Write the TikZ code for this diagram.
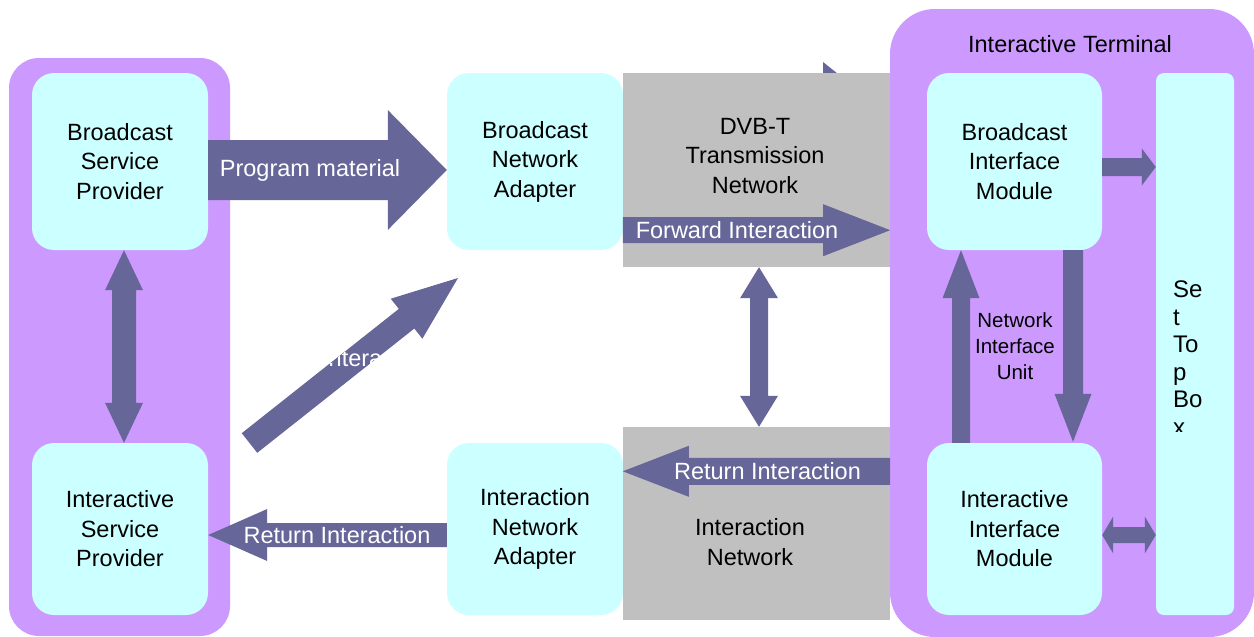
\documentclass[tikz,border=0pt]{standalone}
\usepackage{fontspec}
\setmainfont{Liberation Sans}
\usetikzlibrary{calc}
\definecolor{purp}{HTML}{CC99FF}
\definecolor{cyanb}{HTML}{CCFFFF}
\definecolor{arrc}{HTML}{666699}
\definecolor{grayb}{HTML}{C0C0C0}
\newcommand\mainfs{\fontsize{23.5}{29.5}\selectfont}
% single block arrow: #1 command, #2 from, #3 to, #4 shaft half width, #5 head half width, #6 head length
\newcommand\blockarr[6]{#1 let \p1=(#2), \p2=(#3), \n1={atan2(\y2-\y1,\x2-\x1)}, \n2={veclen(\x2-\x1,\y2-\y1)} in [shift={(\p1)}, rotate=\n1] (0,#4) -- ({\n2-#6},#4) -- ({\n2-#6},#5) -- (\n2,0) -- ({\n2-#6},-#5) -- ({\n2-#6},-#4) -- (0,-#4) -- cycle;}
% double block arrow
\newcommand\dblockarr[6]{#1 let \p1=(#2), \p2=(#3), \n1={atan2(\y2-\y1,\x2-\x1)}, \n2={veclen(\x2-\x1,\y2-\y1)} in [shift={(\p1)}, rotate=\n1] (0,0) -- (#6,#5) -- (#6,#4) -- ({\n2-#6},#4) -- ({\n2-#6},#5) -- (\n2,0) -- ({\n2-#6},-#5) -- ({\n2-#6},-#4) -- (#6,-#4) -- (#6,-#5) -- cycle;}
\tikzset{
  cont/.style={fill=purp, inner sep=0},
  box/.style={fill=cyanb, rounded corners=22pt, inner sep=0, align=center, font=\mainfs},
  graybox/.style={fill=grayb, inner sep=0},
  lbl/.style={text=white, inner sep=0, font=\mainfs},
  txt/.style={inner sep=0, align=center, font=\mainfs},
}
\begin{document}
\begin{tikzpicture}[x=1pt,y=-1pt]
\useasboundingbox (0,0) rectangle (1254,637);
\fill[white] (0,0) rectangle (1254,637);
% containers
\node[cont, rounded corners=30pt, minimum width=221pt, minimum height=578pt] (lc) at (119.5,347) {};
\node[cont, rounded corners=45pt, minimum width=364pt, minimum height=628pt] (rc) at (1072,323) {};
\node[txt] (itlabel) at (1070,44) {Interactive Terminal};
% peeking arrow tip above DVB-T box
\fill[arrc] (823,62) -- (823,74) -- (838,74) -- cycle;
% boxes
\node[box, minimum width=176pt, minimum height=177pt] (bsp) at (120,161.5) {Broadcast\\Service\\Provider};
\node[box, minimum width=176pt, minimum height=172pt] (isp) at (120,529) {Interactive\\Service\\Provider};
\node[box, minimum width=176pt, minimum height=177pt] (bna) at (535,161.5) {Broadcast\\Network\\Adapter};
\node[box, minimum width=176pt, minimum height=172pt] (ina) at (535,529) {Interaction\\Network\\Adapter};
\node[graybox, minimum width=267pt, minimum height=194pt] (dvb) at (756.5,170) {};
\node[graybox, minimum width=267pt, minimum height=193pt] (inet) at (756.5,523.5) {};
\node[txt] (dvbt) at (755,156) {DVB-T\\Transmission\\Network};
\node[txt] (inett) at (750,542) {Interaction\\Network};
\node[box, minimum width=175pt, minimum height=177pt] (bim) at (1014.5,161.5) {Broadcast\\Interface\\Module};
\node[box, minimum width=175pt, minimum height=172pt] (iim) at (1014.5,529) {Interactive\\Interface\\Module};
\node[fill=cyanb, rounded corners=8pt, inner sep=0, minimum width=78pt, minimum height=542pt] (stb) at (1195,344) {};
\begin{scope}
  \clip (1156,73) rectangle (1234,431);
  \node[anchor=north west, inner sep=0, align=left, font=\fontsize{24}{27.5}\selectfont] (stbt) at (1173,281) {Se\\t\\To\\p\\Bo\\x};
\end{scope}
\node[inner sep=0, align=center, font=\fontsize{20.5}{26}\selectfont] (niu) at (1015,346) {Network\\Interface\\Unit};
% arrow end coordinates
\coordinate (pm1) at ($(bsp.east)+(0,8.5)$);
\coordinate (pm2) at ($(bna.west)+(0,8.5)$);
\coordinate (d1) at (249.5,443);
\coordinate (d2) at (458,278);
\coordinate (fi1) at ($(dvb.south west)+(0,-37)$);
\coordinate (fi2) at ($(dvb.south east)+(0,-37)$);
\coordinate (ri1) at ($(inet.north east)+(0,44.5)$);
\coordinate (ri2) at ($(inet.north west)+(0,44.5)$);
\coordinate (rl1) at ($(ina.west)+(0,6)$);
\coordinate (rl2) at ($(isp.east)+(0,6)$);
\coordinate (b1) at ($(bim.east)+(0,5.5)$);
\coordinate (i1) at ($(iim.east)+(0,6)$);
% arrows
\dblockarr{\fill[arrc]}{$(bsp.south)+(4,0)$}{$(isp.north)+(4,0)$}{12}{19}{40}
\blockarr{\fill[arrc]}{pm1}{pm2}{30}{60}{59}
\blockarr{\fill[arrc]}{d1}{d2}{12.5}{25.5}{65.6}
\blockarr{\fill[arrc]}{fi1}{fi2}{13}{26}{67}
\dblockarr{\fill[arrc]}{$(dvb.south)+(2.5,0)$}{$(inet.north)+(2.5,0)$}{9}{19}{31}
\blockarr{\fill[arrc]}{ri1}{ri2}{13.5}{25.5}{66}
\blockarr{\fill[arrc]}{rl1}{rl2}{12}{26}{59}
\blockarr{\fill[arrc]}{b1}{stb.west |- b1}{9}{18.5}{14}
\dblockarr{\fill[arrc]}{i1}{stb.west |- i1}{8}{18.5}{11}
\blockarr{\fill[arrc]}{$(iim.north)+(-53.5,0)$}{$(bim.south)+(-53.5,0)$}{9}{18.5}{48}
\blockarr{\fill[arrc]}{$(bim.south)+(58.5,0)$}{$(iim.north)+(58.5,-1)$}{10}{18.5}{48}
% arrow labels
\node[lbl] (pmt) at (310,170) {Program material};
\node[lbl] (fit) at (737,230) {Forward Interaction};
\node[lbl] (rit) at (767.5,471.5) {Return Interaction};
\node[lbl] (rlt) at (337,535) {Return Interaction};
\begin{scope}
  \blockarr{\clip}{d1}{d2}{12.5}{25.5}{65.6}
  \node[lbl, anchor=base west] (dtx) at (322,366) {Interaction};
\end{scope}
\end{tikzpicture}
\end{document}
